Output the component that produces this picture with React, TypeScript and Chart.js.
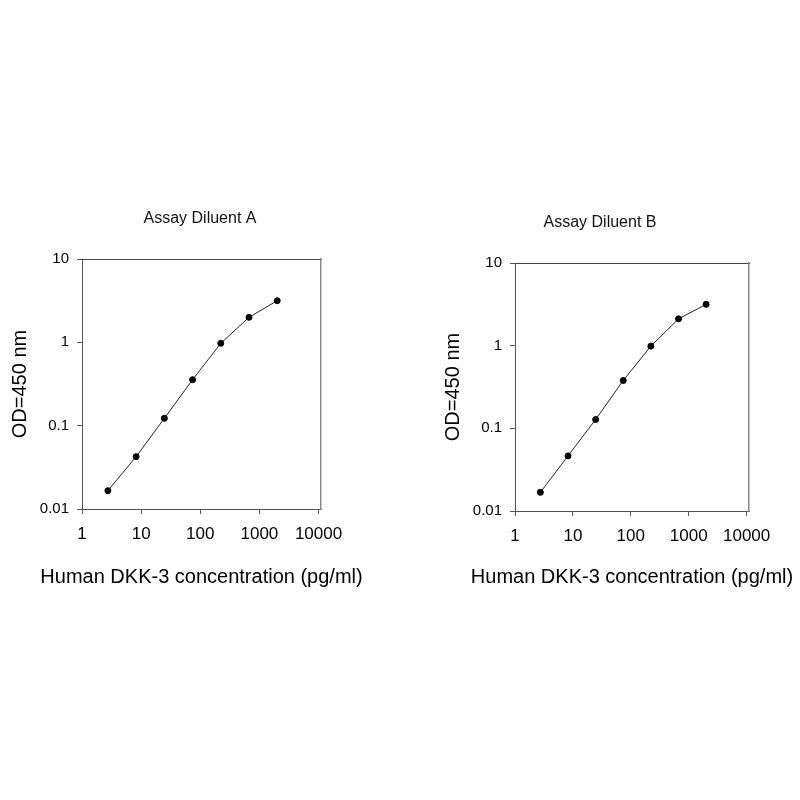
import { useEffect, useRef } from "react"
import { Chart, registerables } from "chart.js"

Chart.register(...registerables)

// Serial dilution of the standard (pg/ml)
const concentrations = [2.74, 8.23, 24.7, 74.1, 222, 667, 2000]
const odDiluentA = [0.0166, 0.0425, 0.1225, 0.356, 0.973, 1.995, 3.16]
const odDiluentB = [0.0168, 0.0464, 0.128, 0.379, 0.987, 2.11, 3.16]
const xTicks = [1, 10, 100, 1000, 10000]
const yTicks = [0.01, 0.1, 1, 10]

const FONT = "'Liberation Sans', Arial, Helvetica, sans-serif"
const X_TITLE = "Human DKK-3 concentration (pg/ml)"

interface LayoutBox {
  left: number // canvas left on the page
  width: number
  height: number
  areaLeft: number // chart area edges, canvas coords
  areaRight: number
  areaTop: number
  areaBottom: number
  titleY: number // centre of the title text
  yTitleX: number // centre of rotated y title
  xTitleY: number // centre of x title
}

// The x title is wider than the plot, so the scale title would squeeze it;
// draw it centred under the chart area instead.
const xTitlePlugin = {
  id: "xTitleWide",
  afterDraw(chart: Chart, _args: unknown, opts: { text: string; y: number }) {
    const { ctx, chartArea } = chart
    ctx.save()
    ctx.font = `20px ${FONT}`
    ctx.fillStyle = "#000"
    ctx.textAlign = "center"
    ctx.textBaseline = "middle"
    ctx.fillText(opts.text, (chartArea.left + chartArea.right) / 2, opts.y)
    ctx.restore()
  },
}

interface CurveChartProps {
  title: string
  values: number[]
  box: LayoutBox
}

function CurveChart({ title, values, box }: CurveChartProps) {
  const chartRef = useRef<HTMLCanvasElement>(null)
  const chartInstance = useRef<Chart | null>(null)

  useEffect(() => {
    if (!chartRef.current) return
    if (chartInstance.current) chartInstance.current.destroy()

    const ctx = chartRef.current.getContext("2d")
    if (!ctx) return

    const titleLine = 16 * 1.2
    const titlePadTop = box.titleY - titleLine / 2
    const titlePadBottom = box.areaTop - titlePadTop - titleLine
    const axisTitleLine = 20 * 1.2

    chartInstance.current = new Chart(ctx, {
      type: "line",
      data: {
        datasets: [
          {
            label: title,
            data: concentrations.map((c, i) => ({ x: c, y: values[i] })),
            borderColor: "#222",
            borderWidth: 1,
            backgroundColor: "#000",
            pointBackgroundColor: "#000",
            pointBorderColor: "#000",
            pointRadius: 3,
            pointHoverRadius: 3,
            tension: 0,
          },
        ],
      },
      plugins: [xTitlePlugin],
      options: {
        responsive: false,
        animation: false,
        layout: { padding: 0 },
        plugins: {
          legend: { display: false },
          tooltip: { enabled: false },
          title: {
            display: true,
            text: title,
            color: "#111",
            font: { family: FONT, size: 16, weight: "normal" },
            padding: { top: titlePadTop, bottom: titlePadBottom },
          },
          // @ts-ignore custom plugin options
          xTitleWide: { text: X_TITLE, y: box.xTitleY },
        },
        scales: {
          x: {
            type: "logarithmic",
            position: "bottom",
            min: 1,
            max: 11000,
            afterBuildTicks: (scale) => {
              scale.ticks = xTicks.map((v) => ({ value: v }))
            },
            afterFit: (scale) => {
              scale.height = box.height - box.areaBottom
            },
            ticks: {
              color: "#000",
              font: { family: FONT, size: 17 },
              padding: 10,
              maxRotation: 0,
              autoSkip: false,
              callback: (v) => String(v),
            },
            grid: { drawOnChartArea: false, drawTicks: true, tickLength: 5, color: "#555" },
            border: { display: true, color: "#555", width: 1 },
          },
          y: {
            type: "logarithmic",
            position: "left",
            min: 0.01,
            max: 10,
            afterBuildTicks: (scale) => {
              scale.ticks = yTicks.map((v) => ({ value: v }))
            },
            afterFit: (scale) => {
              scale.width = box.areaLeft
            },
            ticks: {
              color: "#000",
              font: { family: FONT, size: 15 },
              padding: 8,
              autoSkip: false,
              callback: (v) => String(v),
            },
            grid: { drawOnChartArea: false, drawTicks: true, tickLength: 5, color: "#555" },
            border: { display: true, color: "#555", width: 1 },
            title: {
              display: true,
              text: "OD=450 nm",
              color: "#000",
              font: { family: FONT, size: 20 },
              padding: { top: box.yTitleX - axisTitleLine / 2, bottom: 0 },
            },
          },
          // frame lines on the top and right of the plot
          xTop: {
            type: "linear",
            position: "top",
            afterFit: (scale) => {
              scale.height = 0
            },
            ticks: { display: false },
            grid: { drawOnChartArea: false, drawTicks: false },
            border: { display: true, color: "#444", width: 1 },
          },
          yRight: {
            type: "linear",
            position: "right",
            afterFit: (scale) => {
              scale.width = box.width - box.areaRight
            },
            ticks: { display: false },
            grid: { drawOnChartArea: false, drawTicks: false },
            border: { display: true, color: "#888", width: 1.5 },
          },
        },
      },
    })

    return () => {
      if (chartInstance.current) {
        chartInstance.current.destroy()
        chartInstance.current = null
      }
    }
  }, [title, values, box])

  return (
    <canvas
      ref={chartRef}
      width={box.width}
      height={box.height}
      style={{ position: "absolute", left: box.left, top: 0, width: box.width, height: box.height }}
    />
  )
}

const leftBox: LayoutBox = {
  left: 0,
  width: 400,
  height: 620,
  areaLeft: 82,
  areaRight: 321,
  areaTop: 259,
  areaBottom: 509,
  titleY: 219,
  yTitleX: 20,
  xTitleY: 577,
}

const rightBox: LayoutBox = {
  left: 400,
  width: 400,
  height: 620,
  areaLeft: 115,
  areaRight: 349,
  areaTop: 263,
  areaBottom: 511,
  titleY: 223,
  yTitleX: 53,
  xTitleY: 577,
}

export default function App() {
  return (
    <div style={{ position: "absolute", left: 0, top: 0, width: 800, height: 800, background: "#fff" }}>
      <CurveChart title="Assay Diluent A" values={odDiluentA} box={leftBox} />
      <CurveChart title="Assay Diluent B" values={odDiluentB} box={rightBox} />
    </div>
  )
}
